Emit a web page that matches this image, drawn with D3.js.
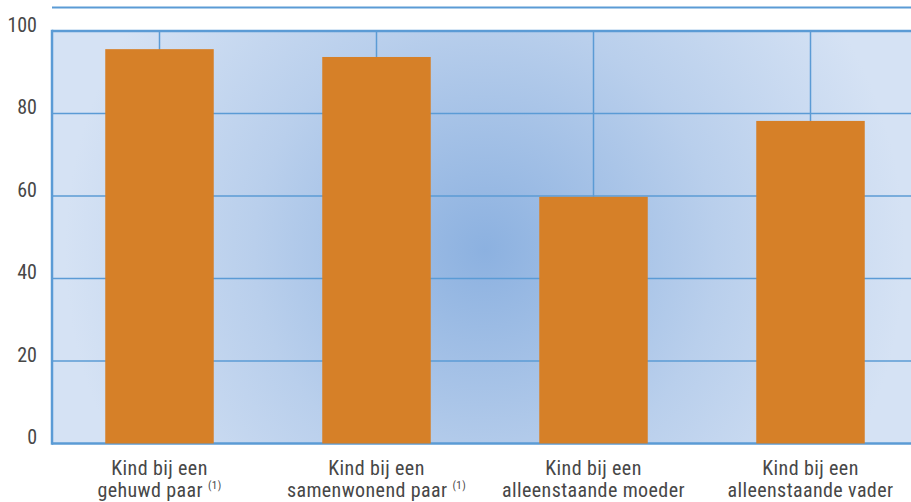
<!DOCTYPE html>
<html lang="nl">
<head>
<meta charset="utf-8">
<script src="https://d3js.org/d3.v7.min.js"></script>
<style>
  body { margin: 0; background: #fff; }
  .tick text, .cat { font-family: "Roboto Condensed", "Liberation Sans Narrow", Roboto, sans-serif; font-weight: 400; fill: #474747; }
</style>
</head>
<body>
<svg id="chart" width="911" height="502"></svg>
<script>
// data
var categories = [
  ["Kind bij een", "gehuwd paar", "(1)"],
  ["Kind bij een", "samenwonend paar", "(1)"],
  ["Kind bij een", "alleenstaande moeder", ""],
  ["Kind bij een", "alleenstaande vader", ""]
];
var values = [95.6, 93.7, 59.8, 78.2];
var yTicks = [0, 20, 40, 60, 80, 100];

var svg = d3.select("#chart");
var margin = {top: 31, left: 52, bottom: 443.5};

var x = d3.scaleBand()
  .domain(d3.range(categories.length))
  .range([margin.left - 1, margin.left - 1 + 4 * 217])
  .paddingInner(0.5)
  .paddingOuter(0.25);

var y = d3.scaleLinear().domain([0, 100]).range([margin.bottom, margin.top]);

var defs = svg.append("defs");
var grad = defs.append("radialGradient")
  .attr("id", "bg")
  .attr("gradientUnits", "userSpaceOnUse")
  .attr("cx", 485).attr("cy", 250).attr("r", 420);
grad.append("stop").attr("offset", "0").attr("stop-color", "#8cb1e0");
grad.append("stop").attr("offset", "0.55").attr("stop-color", "#b9cfec");
grad.append("stop").attr("offset", "1").attr("stop-color", "#d5e2f4");

// top decorative line
svg.append("line")
  .attr("x1", margin.left).attr("x2", 911)
  .attr("y1", 7.5).attr("y2", 7.5)
  .attr("stroke", "#5b9bd5").attr("stroke-width", 2);

// plot background
svg.append("rect")
  .attr("x", margin.left).attr("y", y(100))
  .attr("width", 911 - margin.left).attr("height", y(0) - y(100))
  .attr("fill", "url(#bg)");

// horizontal gridlines
svg.append("g").selectAll("line")
  .data(yTicks)
  .join("line")
  .attr("x1", margin.left).attr("x2", 911)
  .attr("y1", d => y(d)).attr("y2", d => y(d))
  .attr("stroke", "#5b9bd5")
  .attr("stroke-width", d => (d === 100 || d === 0) ? 2.5 : 1.5);

// vertical gridlines at category centres
svg.append("g").selectAll("line")
  .data(d3.range(categories.length))
  .join("line")
  .attr("x1", d => x(d) + x.bandwidth() / 2).attr("x2", d => x(d) + x.bandwidth() / 2)
  .attr("y1", y(100)).attr("y2", y(0))
  .attr("stroke", "#5b9bd5").attr("stroke-width", 1.5);

// left border
svg.append("line")
  .attr("x1", margin.left).attr("x2", margin.left)
  .attr("y1", y(100) - 1.2).attr("y2", y(0) + 1.2)
  .attr("stroke", "#5b9bd5").attr("stroke-width", 2.5);

// bars
svg.append("g").selectAll("rect")
  .data(values)
  .join("rect")
  .attr("x", (d, i) => x(i))
  .attr("y", d => y(d))
  .attr("width", x.bandwidth())
  .attr("height", d => y(0) - y(d))
  .attr("fill", "#d68028");

// y axis labels
var yAxis = svg.append("g")
  .attr("transform", "translate(37,0)")
  .call(d3.axisLeft(y).tickValues(yTicks).tickSize(0).tickPadding(0));
yAxis.select(".domain").remove();
yAxis.selectAll("text")
  .attr("dy", "0")
  .style("font-size", "20px");

// category labels
var cat = svg.append("g").selectAll("text")
  .data(categories)
  .join("text")
  .attr("class", "cat")
  .attr("text-anchor", "middle")
  .style("font-size", "20px")
  .style("letter-spacing", "0.4px")
  .attr("x", (d, i) => x(i) + x.bandwidth() / 2);
cat.append("tspan")
  .attr("x", (d, i) => x(i) + x.bandwidth() / 2)
  .attr("y", 475)
  .text(d => d[0]);
cat.append("tspan")
  .attr("x", (d, i) => x(i) + x.bandwidth() / 2)
  .attr("y", 497)
  .text(d => d[1] + (d[2] ? " " : ""))
  .append("tspan")
  .attr("dy", -8)
  .style("font-size", "11px")
  .text(d => d[2]);
</script>
</body>
</html>
